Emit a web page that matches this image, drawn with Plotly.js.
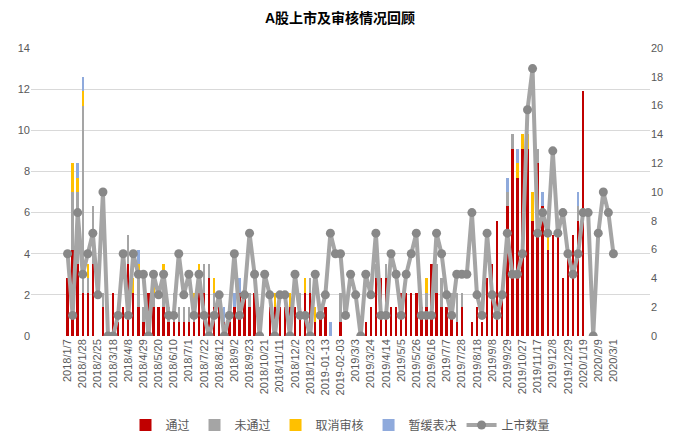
<!DOCTYPE html>
<html><head><meta charset="utf-8">
<script src="https://cdn.plot.ly/plotly-3.0.1.min.js"></script>
<style>body{margin:0;background:#fff;} #chart{width:680px;height:446px;outline:1px solid #d9d9d9;outline-offset:-1px;}</style>
</head><body><div id="chart"></div>
<script>
const weeks = [
"2018/1/7","2018/1/14","2018/1/21","2018/1/28","2018/2/4","2018/2/11","2018/2/25","2018/3/4","2018/3/11","2018/3/18",
"2018/3/25","2018/4/1","2018/4/8","2018/4/15","2018/4/22","2018/4/29","2018/5/6","2018/5/13","2018/5/20","2018/5/27",
"2018/6/3","2018/6/10","2018/6/17","2018/6/24","2018/7/1","2018/7/8","2018/7/15","2018/7/22","2018/7/29","2018/8/5",
"2018/8/12","2018/8/19","2018/8/26","2018/9/2","2018/9/9","2018/9/16","2018/9/23","2018/9/30","2018/10/14","2018/10/21",
"2018/10/28","2018/11/4","2018/11/11","2018/11/18","2018/11/25","2018/12/2","2018/12/9","2018/12/16","2018/12/23","2018/12/30",
"2019-01-06","2019-01-13","2019-01-20","2019-01-27","2019-02-03","2019/2/17","2019/2/24","2019/3/3","2019/3/10","2019/3/17",
"2019/3/24","2019/3/31","2019/4/7","2019/4/14","2019/4/21","2019/4/28","2019/5/5","2019/5/12","2019/5/19","2019/5/26",
"2019/6/2","2019/6/9","2019/6/16","2019/6/23","2019/6/30","2019/7/7","2019/7/14","2019/7/21","2019/7/28","2019/8/4",
"2019/8/11","2019/8/18","2019/8/25","2019/9/1","2019/9/8","2019/9/15","2019/9/22","2019/9/29","2019/10/13","2019/10/20",
"2019/10/27","2019/11/3","2019/11/10","2019/11/17","2019/11/24","2019/12/1","2019/12/8","2019/12/15","2019/12/22","2019/12/29",
"2020/1/5","2020/1/12","2020/1/19","2020/1/26","2020/2/2","2020/2/9","2020/2/16","2020/2/23","2020/3/1"
];
const tickLabels = [
"2018/1/7","2018/1/28","2018/2/25","2018/3/18","2018/4/8","2018/4/29","2018/5/20","2018/6/10","2018/7/1","2018/7/22",
"2018/8/12","2018/9/2","2018/9/23","2018/10/21","2018/11/11","2018/12/2","2018/12/23","2019-01-13","2019-02-03","2019/3/3",
"2019/3/24","2019/4/14","2019/5/5","2019/5/26","2019/6/16","2019/7/7","2019/7/28","2019/8/18","2019/9/8","2019/9/29",
"2019/10/27","2019/11/17","2019/12/8","2019/12/29","2020/1/19","2020/2/9","2020/3/1"
];
// 通过
const passed = [
4,6,5,3,3,5,0,2,1,3, 1,2,5,3,2,1,3,2,2,2, 1,1,1,1,1,1,3,3,4,2,
2,1,1,2,3,3,2,3,0,0, 2,2,2,2,2,2,2,3,3,1, 2,2,0,0,1,0,0,0,0,1,
2,4,4,4,2,2,3,3,3,3, 2,2,5,3,2,2,2,1,2,0, 1,2,1,4,5,8,3,9,13,11,
13,13,8,12,9,6,7,7,4,6, 7,8,17,0,0,0,0,0,0
];
// 未通过
const rejected = [
0,4,5,13,1,4,0,1,0,0, 0,0,2,0,2,1,0,1,0,2, 1,2,1,1,1,1,1,2,1,1,
1,0,1,0,0,0,1,0,2,0, 0,0,0,0,0,0,1,0,1,0, 0,0,0,0,2,0,0,0,0,0,
0,1,0,1,0,0,0,0,0,0, 0,1,0,2,2,0,1,2,1,0, 0,0,0,0,0,0,0,1,1,0,
0,0,0,1,0,0,0,0,0,0, 0,1,0,0,0,0,0,0,0
];
// 取消审核
const cancelled = [
0,2,1,1,1,0,0,0,0,0, 0,0,0,1,1,0,0,1,0,1, 0,0,0,0,0,1,1,0,0,1,
0,0,0,0,0,0,0,0,0,0, 0,1,0,0,1,0,0,1,0,1, 0,0,0,0,0,0,0,0,0,0,
0,0,0,0,0,0,0,0,0,0, 0,1,0,0,0,0,0,0,0,0, 0,0,0,0,0,0,0,0,0,1,
1,1,2,0,0,1,0,0,0,0, 0,0,0,0,0,0,0,0,0
];
// 暂缓表决
const postponed = [
0,0,1,1,0,0,0,0,0,0, 0,0,0,0,1,0,0,0,0,0, 0,0,0,0,0,0,0,0,0,0,
0,1,0,1,1,0,0,0,0,0, 0,0,0,0,0,0,0,0,0,0, 0,0,1,0,0,0,0,0,0,0,
0,0,0,0,0,0,0,0,0,0, 0,0,0,0,0,0,0,0,0,0, 0,0,0,0,0,0,0,1,0,1,
0,0,0,0,1,0,0,0,0,0, 0,1,0,0,0,0,0,0,0
];
// 上市数量
const listed = [
4,1,6,3,4,5,2,7,0,0, 1,4,1,4,3,3,0,3,2,3, 1,1,4,2,3,1,3,1,0,1,
2,0,1,4,1,2,5,3,0,3, 2,0,2,2,0,3,1,1,0,3, 1,2,5,4,4,1,3,2,0,3,
2,5,1,1,4,3,1,3,4,5, 1,1,1,5,4,2,1,3,3,3, 6,2,1,5,2,1,2,5,3,3,
4,11,13,5,6,5,9,5,6,4, 3,4,6,6,0,5,7,6,4
];

const fontFam = 'Liberation Sans, "Noto Sans CJK SC", sans-serif';
const bar = (name, vals, color) => ({
  type: 'bar', name: name, x: weeks, y: vals, yaxis: 'y',
  marker: {color: color, line: {width: 0}}, hoverinfo: 'x+y+name'
});
const traces = [
  bar('通过', passed, '#C00000'),
  bar('未通过', rejected, '#A5A5A5'),
  bar('取消审核', cancelled, '#FFC000'),
  bar('暂缓表决', postponed, '#8FAADC'),
  {type: 'scatter', mode: 'lines+markers', name: '上市数量', x: weeks, y: listed, yaxis: 'y2',
   line: {color: '#A5A5A5', width: 4}, marker: {color: '#888888', size: 9}}
];
const layout = {
  width: 680, height: 446,
  margin: {l: 31, r: 30, t: 48, b: 110},
  paper_bgcolor: '#ffffff', plot_bgcolor: '#ffffff',
  font: {family: fontFam, size: 11, color: '#595959'},
  title: {text: '<b>A股上市及审核情况回顾</b>', x: 0.5, xanchor: 'center', y: 0.96, yanchor: 'middle',
          font: {family: fontFam, size: 14, color: '#000000'}},
  barmode: 'stack', bargap: 0.52,
  showlegend: true,
  legend: {orientation: 'h', x: 0.5, xanchor: 'center', y: 0.047, yref: 'container', yanchor: 'middle',
           traceorder: 'normal', font: {size: 12, color: '#595959'}, itemwidth: 30},
  xaxis: {type: 'category', tickmode: 'array', tickvals: tickLabels, ticktext: tickLabels,
          tickangle: -90, ticks: '', showgrid: false, showline: false, zeroline: false,
          tickfont: {size: 11, color: '#595959'}, automargin: false},
  yaxis: {side: 'right', range: [0, 20], dtick: 2, showgrid: false, zeroline: false, showline: false,
          ticks: '', tickfont: {size: 11, color: '#595959'}},
  yaxis2: {overlaying: 'y', side: 'left', range: [0, 14], dtick: 2, showgrid: true, gridcolor: '#D9D9D9',
           gridwidth: 1, zeroline: false, showline: false, ticks: '', tickfont: {size: 11, color: '#595959'}}
};
Plotly.newPlot('chart', traces, layout, {displayModeBar: false, staticPlot: true});
</script>
</body></html>
